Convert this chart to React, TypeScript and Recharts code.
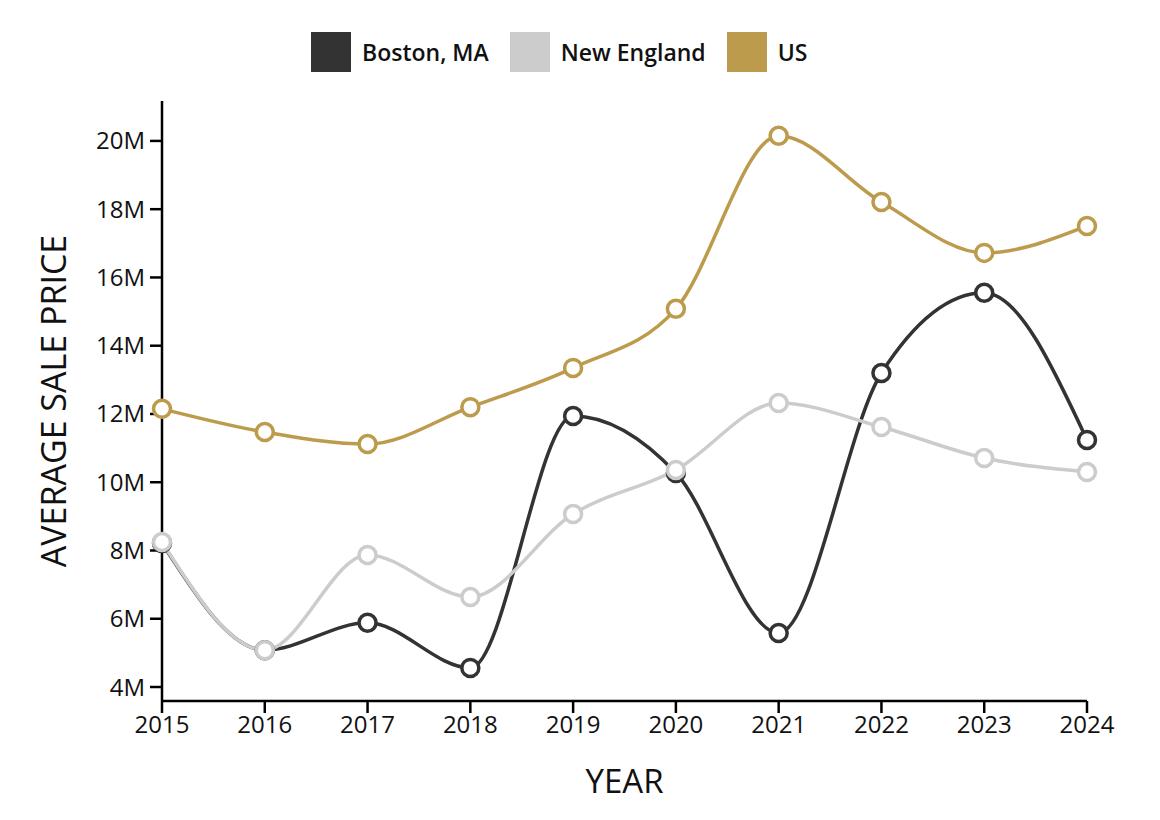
import React from 'react';
import { LineChart, Line, XAxis, YAxis } from 'recharts';

const years = ['2015', '2016', '2017', '2018', '2019', '2020', '2021', '2022', '2023', '2024'];
const boston = [8.22, 5.08, 5.88, 4.56, 11.94, 10.27, 5.58, 13.2, 15.55, 11.24];
const newEngland = [8.25, 5.08, 7.87, 6.64, 9.07, 10.36, 12.32, 11.62, 10.71, 10.3];
const us = [12.15, 11.47, 11.12, 12.2, 13.35, 15.08, 20.15, 18.21, 16.72, 17.51];
const yTicks = [4, 6, 8, 10, 12, 14, 16, 18, 20];

const SERIES = [
  { key: 'boston', name: 'Boston, MA', color: '#333333' },
  { key: 'newEngland', name: 'New England', color: '#cccccc' },
  { key: 'us', name: 'US', color: '#bc9b4c' },
];

const FONT = '"Open Sans", "Noto Sans", sans-serif';

const data = years.map((year, i) => ({
  year,
  boston: boston[i] * 1e6,
  newEngland: newEngland[i] * 1e6,
  us: us[i] * 1e6,
}));

export default function App() {
  return (
    <div style={{ position: 'absolute', left: 0, top: 0, width: 1160, height: 820, background: '#fff' }}>
      <div
        style={{
          position: 'absolute',
          top: 32,
          left: 311,
          display: 'flex',
          alignItems: 'center',
          fontFamily: FONT,
          fontSize: 23,
          fontWeight: 600,
          color: '#111',
          whiteSpace: 'nowrap',
        }}
      >
        {SERIES.map((s) => (
          <div key={s.key} style={{ display: 'flex', alignItems: 'center', marginRight: 21 }}>
            <span style={{ width: 40, height: 40, background: s.color, display: 'inline-block', marginRight: 11 }} />
            <span>{s.name}</span>
          </div>
        ))}
      </div>
      <LineChart width={1160} height={820} data={data} margin={{ top: 101, right: 73, bottom: 59, left: 82 }}>
        <XAxis
          dataKey="year"
          stroke="#000"
          strokeWidth={2.5}
          tickSize={12}
          height={60}
          tick={{ fill: '#111', fontSize: 24, fontFamily: FONT }}
          tickMargin={3}
          padding={{ left: 0, right: 0 }}
          label={{ value: 'YEAR', position: 'insideBottom', offset: -32, fill: '#111', fontSize: 33, fontFamily: FONT }}
        />
        <YAxis
          type="number"
          domain={[3.59e6, 21.17e6]}
          ticks={yTicks.map((t) => t * 1e6)}
          tickFormatter={(v: number) => `${Math.round(v / 1e6)}M`}
          stroke="#000"
          strokeWidth={2.5}
          tickSize={12}
          width={80}
          tickMargin={5}
          allowDataOverflow
          tick={{ fill: '#111', fontSize: 24, fontFamily: FONT }}
          label={{ value: 'AVERAGE SALE PRICE', angle: -90, position: 'insideLeft', offset: -28, style: { textAnchor: 'middle' }, fill: '#111', fontSize: 34, fontFamily: FONT }}
        />
        {SERIES.map((s) => (
          <Line
            key={s.key}
            type="monotone"
            dataKey={s.key}
            name={s.name}
            stroke={s.color}
            strokeWidth={3.5}
            dot={{ r: 8.5, stroke: s.color, strokeWidth: 3.5, fill: '#fff' }}
            activeDot={false}
            isAnimationActive={false}
          />
        ))}
      </LineChart>
    </div>
  );
}
